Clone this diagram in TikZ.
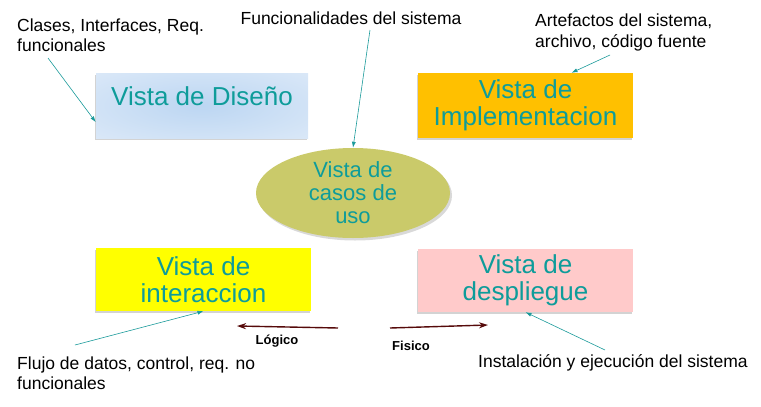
\documentclass[tikz,border=0pt]{standalone}
\usepackage{fontspec}
\setmainfont{Liberation Sans}
\usetikzlibrary{arrows.meta, positioning, shapes.geometric, shadows}
\definecolor{viewtext}{HTML}{0E9C9A}
\definecolor{callcol}{HTML}{1A9A9A}
\definecolor{dircol}{HTML}{560A0A}
\definecolor{disin}{HTML}{BCD6F2}
\definecolor{disout}{HTML}{E6EFFA}
\definecolor{impfill}{HTML}{FFC000}
\definecolor{intfill}{HTML}{FFFF00}
\definecolor{desfill}{HTML}{FFCACA}
\definecolor{casfill}{HTML}{CACA6A}
\pgfdeclareradialshading{disshade}{\pgfpoint{0bp}{0bp}}{color(0bp)=(disin); color(50bp)=(disout); color(100bp)=(disout)}
\tikzset{view/.style={rectangle,align=center,inner sep=2pt,text=viewtext,font=\fontsize{26}{27}\selectfont,minimum width=215pt,minimum height=64pt,drop shadow={shadow xshift=-1.5pt,shadow yshift=-2pt,opacity=.35}},
  note/.style={align=left,inner sep=0pt,font=\fontsize{17.5}{20.5}\selectfont},
  callout/.style={-{Latex[length=6pt,width=4pt]},draw=callcol,line width=.6pt},
  dir/.style={-{Stealth[length=9pt,width=6pt]},draw=dircol,line width=1.4pt},
  dirlabel/.style={inner sep=0pt,font=\fontsize{13}{15}\bfseries\selectfont}}

\begin{document}
\begin{tikzpicture}[x=1pt,y=-1pt]
\useasboundingbox (0,0) rectangle (761,407);
% the five views
\node[view, shading=disshade, minimum width=212pt, minimum height=65pt, text depth=18pt] (dis) at (202,105.5) {Vista de Diseño};
\node[view, fill=impfill, minimum height=65pt] (imp) at (525.5,105.5) {Vista de\\Implementacion};
\node[view, fill=intfill, minimum height=63pt] (int) at (203.5,279.5) {Vista de\\interaccion};
\node[view, fill=desfill, minimum height=63pt] (des) at (525.5,280.5) {Vista de\\despliegue};
\node[ellipse, fill=casfill, minimum width=194pt, minimum height=90pt, inner sep=0pt, align=center, text=viewtext, font=\fontsize{22}{23}\selectfont, drop shadow={shadow xshift=2pt,shadow yshift=-2.5pt,opacity=.3}] (cas) at (353,193) {Vista de\\casos de\\uso};
% notes
\node[note, anchor=west] (n1) at (17,35) {Clases, Interfaces, Req.\\funcionales};
\node[note] (n2) at (351,18) {Funcionalidades del sistema};
\node[note, anchor=west] (n3) at (535,32.5) {Artefactos del sistema,\\archivo, código fuente};
\node[note, anchor=west] (n4) at (17,373) {Flujo de datos, control, req. no\\funcionales};
\node[note, anchor=west] (n5) at (478,363) {Instalación y ejecución del sistema};
\coordinate (c1) at (48,58);
\coordinate (c2) at (370,30);
\coordinate (c3) at (610,55);
\coordinate (c4) at (75,345);
\coordinate (c5) at (605,350);
\draw[callout] (c1) -- ([yshift=16pt]dis.south west);
\draw[callout] (c2) -- (cas.north);
\draw[callout] (c3) -- ([xshift=46pt]imp.north);
\draw[callout] (c4) -- (int.south);
\draw[callout] (c5) -- (des.south);
% logical / physical
\coordinate (l1) at (338,328);
\coordinate (l2) at (237,326);
\coordinate (f1) at (390,328);
\coordinate (f2) at (488,325);
\draw[dir] (l1) -- (l2);
\draw[dir] (f1) -- (f2);
\node[dirlabel] (lg) at (277,341) {Lógico};
\node[dirlabel] (fs) at (411,346) {Fisico};
\end{tikzpicture}
\end{document}
